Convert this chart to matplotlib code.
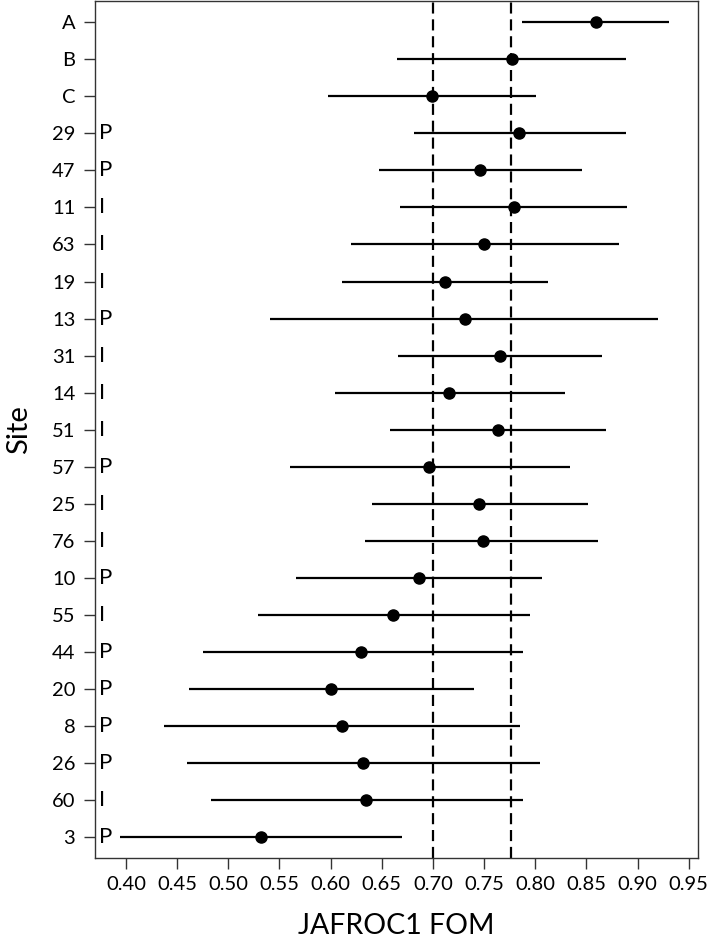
import matplotlib.pyplot as plt
from matplotlib.transforms import blended_transform_factory

plt.rcParams['font.family'] = ['Lato', 'DejaVu Sans']

# sites from top to bottom
sites = ['A', 'B', 'C', '29', '47', '11', '63', '19', '13', '31', '14', '51',
         '57', '25', '76', '10', '55', '44', '20', '8', '26', '60', '3']
site_type = ['', '', '', 'P', 'P', 'I', 'I', 'I', 'P', 'I', 'I', 'I',
             'P', 'I', 'I', 'P', 'I', 'P', 'P', 'P', 'P', 'I', 'P']
fom = [0.859, 0.777, 0.699, 0.784, 0.746, 0.779, 0.750, 0.712, 0.731, 0.766, 0.716, 0.764,
       0.696, 0.745, 0.749, 0.686, 0.661, 0.630, 0.600, 0.611, 0.632, 0.635, 0.532]
ci_low = [0.787, 0.665, 0.597, 0.681, 0.647, 0.668, 0.620, 0.611, 0.541, 0.666, 0.604, 0.658,
          0.560, 0.640, 0.634, 0.566, 0.529, 0.475, 0.462, 0.437, 0.460, 0.483, 0.394]
ci_high = [0.931, 0.889, 0.801, 0.889, 0.846, 0.890, 0.882, 0.812, 0.920, 0.865, 0.829, 0.869,
           0.834, 0.852, 0.861, 0.807, 0.795, 0.788, 0.740, 0.785, 0.805, 0.788, 0.670]
ref_lines = [0.70, 0.776]
xticks = [0.40, 0.45, 0.50, 0.55, 0.60, 0.65, 0.70, 0.75, 0.80, 0.85, 0.90, 0.95]

fig = plt.figure(figsize=(7.09, 9.41), dpi=100)
ax = fig.add_axes([0.1336, 0.088, 0.8514, 0.911])

n = len(sites)
ypos = list(range(n - 1, -1, -1))

for v in ref_lines:
    ax.axvline(v, color='black', lw=1.6, linestyle=(0, (5, 2.6)), zorder=1)

ax.hlines(ypos, ci_low, ci_high, color='black', lw=1.6, zorder=2)
ax.plot(fom, ypos, 'o', color='black', ms=8, zorder=3)

trans = blended_transform_factory(ax.transAxes, ax.transData)
for y, t in zip(ypos, site_type):
    if t:
        ax.text(0.007, y, t, transform=trans, ha='left', va='center', fontsize=16)

ax.set_xlim(0.3694, 0.9594)
ax.set_ylim(-0.56, n - 1 + 0.57)
ax.set_yticks(ypos)
ax.set_yticklabels(sites)
ax.set_xticks(xticks)
ax.set_xticklabels(['%.2f' % t for t in xticks])

ax.tick_params(axis='both', labelsize=14.5, length=8, width=1, color='#333333')
ax.tick_params(axis='y', pad=6)
ax.tick_params(axis='x', pad=5)
for s in ax.spines.values():
    s.set_color('#333333')
    s.set_linewidth(1)

ax.set_xlabel('JAFROC1 FOM', fontsize=20.5, labelpad=14)
ax.set_ylabel('Site', fontsize=21, labelpad=14)

fig.savefig('out.png', dpi=100)
